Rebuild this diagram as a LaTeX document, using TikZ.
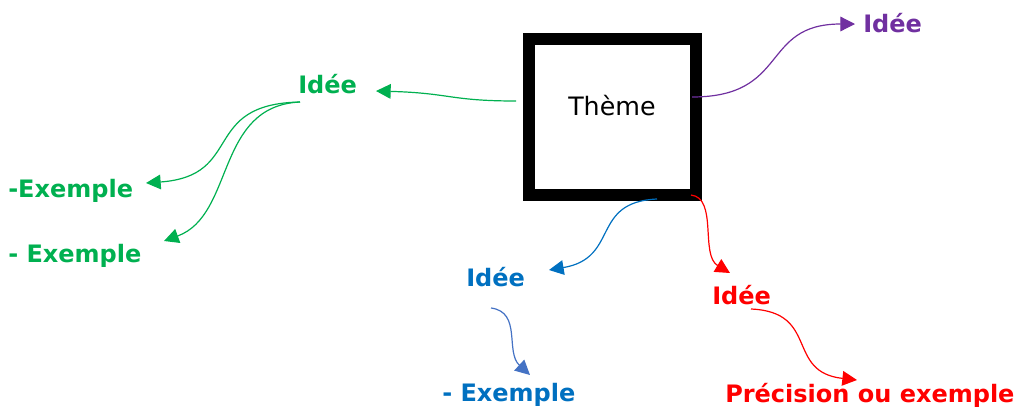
\documentclass[tikz,border=0pt]{standalone}
\usepackage{fontspec}
\setmainfont{DejaVu Sans}
\usetikzlibrary{arrows.meta}
\definecolor{cpurple}{HTML}{7030A0}
\definecolor{cgreen}{HTML}{00B050}
\definecolor{cblue}{HTML}{0070C0}
\definecolor{cblue2}{HTML}{4472C4}
\definecolor{cred}{HTML}{FF0000}
\begin{document}
\begin{tikzpicture}[x=0.75pt,y=-0.75pt,
  lbl/.style={inner sep=0pt,anchor=base west,font=\fontsize{18}{20}\selectfont\bfseries},
  link/.style={line width=0.9pt,-{Triangle[length=11pt,width=11pt]}}]
\useasboundingbox (0,0) rectangle (1029,412);
\node[draw=black,line width=9pt,minimum width=125.25pt,minimum height=117pt,inner sep=0pt] (box) at (612.5,117) {};
\node[inner sep=0pt,anchor=base west,font=\fontsize{19}{22}\selectfont] (theme) at (568,115) {Thème};
\node[lbl,text=cpurple] (pI) at (863,32) {Idée};
\node[lbl,text=cgreen] (gI) at (298,93) {Idée};
\node[lbl,text=cgreen] (gE1) at (8,197) {-Exemple};
\node[lbl,text=cgreen] (gE2) at (8,262) {- Exemple};
\node[lbl,text=cblue] (bI) at (466,286) {Idée};
\node[lbl,text=cblue] (bE) at (442,401) {- Exemple};
\node[lbl,text=cred] (rI) at (712,304) {Idée};
\node[lbl,text=cred] (rP) at (725,402) {Précision ou exemple};
% endpoints
\coordinate (pS) at (692,97);
\coordinate (pT) at (855,24);
\coordinate (gS) at (516,101);
\coordinate (gT) at (376,91);
\coordinate (g1S) at (300,102);
\coordinate (g1T) at (146,183);
\coordinate (g2T) at (164,241);
\coordinate (bS) at (657,199);
\coordinate (bT) at (549,270);
\coordinate (b2S) at (491,308);
\coordinate (b2T) at (530,375);
\coordinate (rS) at (691,195);
\coordinate (rT) at (730,273);
\coordinate (r2S) at (751,309);
\coordinate (r2T) at (857,380);
\draw[link,cpurple] (pS) .. controls (790,97) and (760,24) .. (pT);
\draw[link,cgreen] (gS) .. controls (450,101) and (450,93) .. (gT);
\draw[link,cgreen] (g1S) .. controls (200,104) and (245,176) .. (g1T);
\draw[link,cgreen] (g1S) .. controls (215,106) and (235,215) .. (g2T);
\draw[link,cblue] (bS) .. controls (590,202) and (620,258) .. (bT);
\draw[link,cblue2] (b2S) .. controls (522,312) and (505,352) .. (b2T);
\draw[link,cred] (rS) .. controls (718,198) and (700,255) .. (rT);
\draw[link,cred] (r2S) .. controls (820,312) and (785,372) .. (r2T);
\end{tikzpicture}
\end{document}
